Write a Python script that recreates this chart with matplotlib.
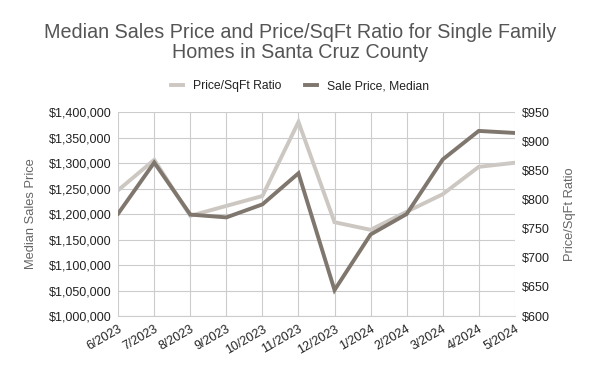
import numpy as np
import matplotlib.pyplot as plt
from matplotlib.ticker import FuncFormatter

plt.rcParams["font.family"] = ["Liberation Sans", "DejaVu Sans"]

# ── Data ──────────────────────────────────────────────────────────────────────
months = ["6/2023", "7/2023", "8/2023", "9/2023", "10/2023", "11/2023",
          "12/2023", "1/2024", "2/2024", "3/2024", "4/2024", "5/2024"]
sale_price_median = [1201000, 1301000, 1199000, 1193500, 1219000, 1280000,
                     1051000, 1160000, 1200000, 1307000, 1363000, 1359000]
price_per_sqft = [816, 868, 772, 789, 806, 933, 761, 748, 779, 809, 856, 863]

LIGHT = "#cdc7c2"
DARK = "#7f766e"
GRID = "#cccccc"

fig = plt.figure(figsize=(6, 3.71), dpi=100)
ax = fig.add_axes([0.197, 0.148, 0.661, 0.550])
ax2 = ax.twinx()

x = np.arange(len(months))
l1, = ax2.plot(x, price_per_sqft, color=LIGHT, lw=2.8, label="Price/SqFt Ratio",
               solid_joinstyle="miter")
l2, = ax.plot(x, sale_price_median, color=DARK, lw=2.8, label="Sale Price, Median",
              solid_joinstyle="miter")
ax.set_zorder(ax2.get_zorder() + 1)
ax.patch.set_visible(False)

ax.set_xlim(0, len(months) - 1)
ax.set_ylim(1000000, 1400000)
ax.set_yticks(np.arange(1000000, 1400001, 50000))
ax2.set_ylim(600, 950)
ax2.set_yticks(np.arange(600, 951, 50))

ax.yaxis.set_major_formatter(FuncFormatter(lambda v, p: f"${v:,.0f}"))
ax2.yaxis.set_major_formatter(FuncFormatter(lambda v, p: f"${v:,.0f}"))

ax.set_xticks(x)
ax.set_xticklabels(months, rotation=30, ha="right", rotation_mode="anchor")
ax.grid(True, color=GRID, lw=0.8)
ax.set_axisbelow(True)

for a in (ax, ax2):
    for s in a.spines.values():
        s.set_visible(False)
    a.tick_params(length=0, labelsize=9, colors="#222222", pad=5)
ax.spines["bottom"].set_visible(True)
ax.spines["bottom"].set_color(GRID)

ax.set_ylabel("Median Sales Price", fontsize=9.3, color="#666666", labelpad=8)
ax2.set_ylabel("Price/SqFt Ratio", fontsize=9.3, color="#666666", labelpad=10)

fig.text(0.5, 0.885, "Median Sales Price and Price/SqFt Ratio for Single Family\nHomes in Santa Cruz County",
         ha="center", va="center", fontsize=14.2, color="#555555", linespacing=1.1)

fig.legend(handles=[l1, l2], loc="center", bbox_to_anchor=(0.5, 0.768), ncol=2,
           frameon=False, fontsize=8.7, handlelength=1.0, handletextpad=0.8,
           columnspacing=2.0)
for t in fig.legends[0].get_texts():
    t.set_color("#222222")

fig.savefig("out.png", dpi=100)
